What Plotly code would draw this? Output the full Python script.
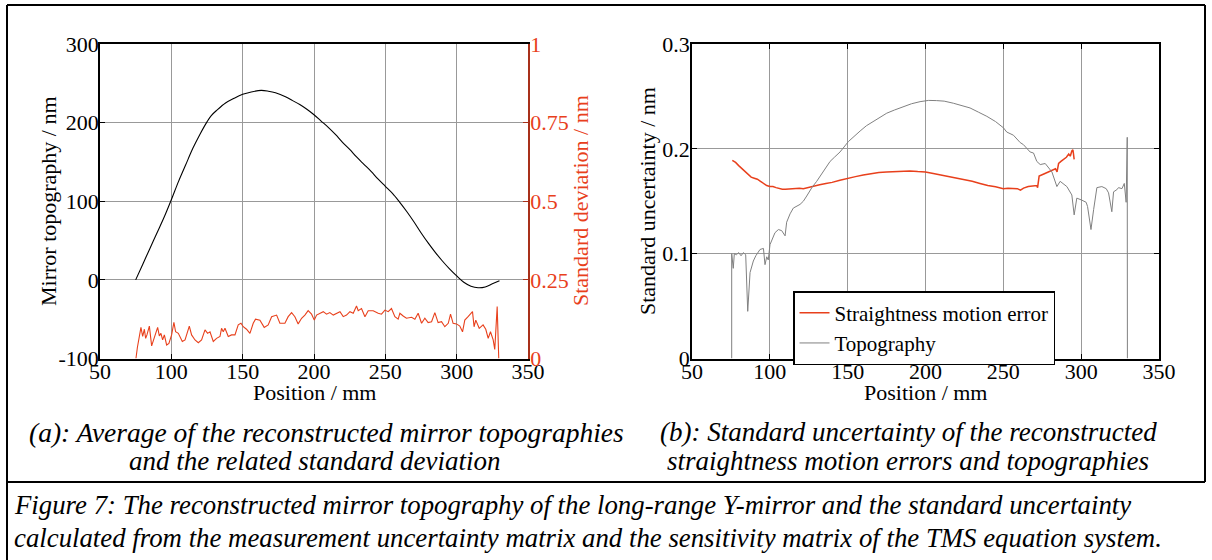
import plotly.graph_objects as go

W, H = 1212, 560

# ---------------- data (a) ----------------
topo_x = [75, 80, 85, 90, 95, 100, 105, 110, 115, 120, 125, 128, 132, 138, 144, 150, 156, 163, 168, 173,
          180, 185, 190, 195, 200, 205, 210, 215, 220, 225, 230, 235, 240, 245, 250, 255, 260, 265, 270, 275,
          280, 285, 290, 295, 300, 305, 310, 315, 320, 325, 330]
topo_y = [0, 20, 40, 60, 80, 102, 125, 146, 167, 185, 201, 209, 216, 225, 231, 236, 239, 241, 240, 238,
          233, 228, 223, 217, 210, 202, 194, 185, 175, 166, 156, 147, 138, 128, 119, 110, 99, 87, 74, 60,
          47, 35, 24, 14, 5, -3, -8, -10, -9, -5, -1]

std_x = [75.2, 76.2, 78.7, 79.9, 81.1, 82.0, 82.9, 84.6, 86.2, 88.1, 90.4, 91.6, 92.7, 93.9, 95.1, 96.7, 98.3,
         100.2, 101.8, 103.0, 104.9, 107.7, 109.6, 112.6, 114.2, 116.6, 118.9, 121.2, 123.6, 125.4, 127.1, 129.4,
         131.7, 134.1, 135.2, 136.4, 137.6, 139.9, 142.2, 144.6, 146.9, 148.8, 150.4, 152.7, 155.1, 157.4, 159.0,
         162.1, 165.1, 167.9, 170.3, 173.8, 176.1, 179.6, 181.9, 184.3, 186.6, 188.9, 191.3, 193.6, 195.9, 198.3,
         200.2, 201.8, 204.1, 206.5, 208.8, 211.1, 213.5, 215.8, 218.2, 220.5, 222.8, 225.2, 227.5, 229.8, 231.0,
         233.3, 235.7, 238.0, 241.5, 245.0, 247.3, 249.7, 252.0, 254.3, 256.7, 259.0, 260.2, 262.5, 264.8, 268.4,
         270.7, 273.0, 275.4, 277.7, 280.0, 282.4, 284.7, 287.0, 289.4, 291.7, 294.1, 295.7, 297.5, 299.9, 302.2,
         304.1, 305.7, 308.0, 311.1, 312.2, 313.4, 315.8, 318.5, 320.4, 322.1, 323.7, 325.6, 326.7, 328.4, 329.5]
std_y = [0.0, 0.035, 0.099, 0.07, 0.093, 0.064, 0.075, 0.103, 0.04, 0.07, 0.099, 0.072, 0.08, 0.059, 0.075, 0.043, 0.048,
         0.075, 0.115, 0.085, 0.08, 0.054, 0.059, 0.103, 0.075, 0.059, 0.05, 0.059, 0.091, 0.08, 0.085, 0.054,
         0.064, 0.07, 0.096, 0.085, 0.096, 0.07, 0.075, 0.075, 0.107, 0.112, 0.101, 0.093, 0.08, 0.112, 0.125,
         0.122, 0.099, 0.107, 0.133, 0.138, 0.112, 0.112, 0.133, 0.146, 0.133, 0.11, 0.128, 0.138, 0.152, 0.141,
         0.122, 0.138, 0.144, 0.149, 0.141, 0.146, 0.138, 0.144, 0.149, 0.133, 0.138, 0.149, 0.144, 0.167, 0.152,
         0.159, 0.133, 0.152, 0.152, 0.144, 0.141, 0.154, 0.149, 0.159, 0.133, 0.125, 0.144, 0.135, 0.128, 0.131,
         0.125, 0.144, 0.112, 0.128, 0.114, 0.117, 0.146, 0.114, 0.117, 0.101, 0.112, 0.141, 0.112, 0.11, 0.103,
         0.085, 0.122, 0.133, 0.149, 0.101, 0.122, 0.096, 0.107, 0.093, 0.064, 0.085, 0.059, 0.029, 0.165, 0.0]

# ---------------- data (b) ----------------
sme_x = [75.9, 78, 80, 82, 84, 86, 88, 90, 92, 94, 96, 98, 100, 102, 104, 106, 108, 110, 113, 116, 119, 121.5,
         125, 128, 132, 136, 140, 145, 150, 155, 160, 165, 170, 175, 180, 185, 190, 195, 200, 205, 210, 215, 220,
         225, 230, 235, 240, 245, 250, 253, 256, 259, 261, 263, 266, 269, 271.5, 272, 273, 276, 279, 282, 283.5,
         284.5, 285.5, 287, 289, 290.5, 292, 293, 294, 294.7, 295, 295.5]
sme_y = [0.189, 0.187, 0.184, 0.181, 0.178, 0.175, 0.173, 0.172, 0.171, 0.169, 0.167, 0.165, 0.164, 0.164, 0.163,
         0.162, 0.1615, 0.1615, 0.162, 0.162, 0.1625, 0.162, 0.163, 0.164, 0.1657, 0.167, 0.168, 0.17, 0.172,
         0.1735, 0.175, 0.1765, 0.1775, 0.178, 0.1785, 0.179, 0.1788, 0.1783, 0.178, 0.1765, 0.175, 0.1738,
         0.1725, 0.171, 0.169, 0.167, 0.165, 0.1638, 0.162, 0.1625, 0.1625, 0.162, 0.1605, 0.1625, 0.164, 0.1648,
         0.165, 0.163, 0.174, 0.176, 0.178, 0.18, 0.181, 0.178, 0.186, 0.188, 0.19, 0.192, 0.195, 0.193, 0.198,
         0.199, 0.196, 0.19]

tu_x = [75.5, 75.5, 76.5, 77.2, 78.5, 80, 81.5, 83, 84.5, 85.8, 87.3, 88.5, 89.4, 91, 92.5, 93.7, 95.9, 96.9, 98,
        99, 100.1, 101.5, 103.3, 105.5, 107.6, 109.8, 110.8, 113, 115.1, 119.4, 121.5, 123.7, 127, 130.1, 134,
        138.7, 141.5, 145.1, 150.5, 154, 158, 162, 166.6, 171, 175.1, 180, 185.8, 191, 196.5, 202, 207.2, 212,
        217.9, 223, 228.6, 234, 239.4, 245, 250.1, 252.2, 256.5, 260.8, 262.9, 267.2, 269.4, 271.5, 273.7, 276.9,
        281.2, 284.4, 286.5, 290.8, 294, 295.5, 297.2, 300.5, 303.2, 304.1, 306.3, 308, 310.1, 313.3, 316.1,
        317.6, 319.7, 320.8, 322.9, 324, 326.2, 327.7, 328.9, 329.6, 329.7]
tu_y = [0.0, 0.1, 0.086, 0.1, 0.099, 0.101, 0.098, 0.101, 0.099, 0.045, 0.082, 0.088, 0.093, 0.098, 0.101, 0.104,
        0.105, 0.0895, 0.097, 0.094, 0.1086, 0.113, 0.12, 0.123, 0.122, 0.117, 0.13, 0.138, 0.1435, 0.147, 0.15,
        0.155, 0.163, 0.169, 0.178, 0.188, 0.192, 0.197, 0.207, 0.212, 0.217, 0.222, 0.226, 0.230, 0.234, 0.237,
        0.24, 0.243, 0.245, 0.2462, 0.246, 0.2455, 0.2435, 0.2415, 0.239, 0.235, 0.231, 0.226, 0.22, 0.216,
        0.213, 0.206, 0.204, 0.197, 0.196, 0.188, 0.185, 0.186, 0.178, 0.164, 0.169, 0.164, 0.156, 0.137, 0.153,
        0.151, 0.149, 0.145, 0.123, 0.142, 0.163, 0.164, 0.162, 0.158, 0.14, 0.159, 0.161, 0.163, 0.162, 0.167,
        0.149, 0.211, 0.0]

x_ticks = [50, 100, 150, 200, 250, 300, 350]
x_ticktext = ["50", "100", "150", "200", "250", "300", "350"]
topo_ticks = [-100, 0, 100, 200, 300]
topo_ticktext = ["-100", "0", "100", "200", "300"]
std_ticks = [0, 0.25, 0.5, 0.75, 1]
std_ticktext = ["0", "0.25", "0.5", "0.75", "1"]
unc_ticks = [0, 0.1, 0.2, 0.3]
unc_ticktext = ["0", "0.1", "0.2", "0.3"]

RED = "#e8401c"
GRAY = "#808080"
FONT = "Liberation Serif"

def px(x):
    return x / W

def py(y):
    return 1 - y / H

fig = go.Figure()
fig.add_trace(go.Scatter(x=topo_x, y=topo_y, mode="lines", line=dict(color="black", width=1.1),
                         xaxis="x", yaxis="y", showlegend=False, line_shape="spline"))
fig.add_trace(go.Scatter(x=std_x, y=std_y, mode="lines", line=dict(color=RED, width=1.1),
                         xaxis="x", yaxis="y2", showlegend=False))
fig.add_trace(go.Scatter(x=sme_x, y=sme_y, mode="lines", line=dict(color=RED, width=1.5),
                         xaxis="x3", yaxis="y3", name="Straightness motion error"))
fig.add_trace(go.Scatter(x=tu_x, y=tu_y, mode="lines", line=dict(color=GRAY, width=1),
                         xaxis="x3", yaxis="y3", name="Topography"))

ydom = [py(358.5), py(44)]
common = dict(showgrid=True, gridcolor="#999999", gridwidth=1, zeroline=False, showline=True,
              linecolor="black", linewidth=1.5, ticks="inside", ticklen=5, tickcolor="black",
              automargin=False, tickfont=dict(family=FONT, size=22, color="black"))

fig.update_layout(
    width=W, height=H, margin=dict(l=0, r=0, t=0, b=0, pad=0, autoexpand=False),
    paper_bgcolor="white", plot_bgcolor="white",
    font=dict(family=FONT, size=20, color="black"),
    xaxis=dict(domain=[px(100), px(528)], range=[50, 350], tickvals=x_ticks, ticktext=x_ticktext,
               anchor="y", mirror=True, ticklabelstandoff=-8, **common),
    yaxis=dict(domain=ydom, range=[-100, 300], tickvals=topo_ticks, ticktext=topo_ticktext,
               anchor="x", ticklabelstandoff=-5, **common),
    yaxis2=dict(overlaying="y", side="right", anchor="x", range=[0, 1], tickvals=std_ticks,
                ticktext=std_ticktext, showgrid=False, zeroline=False, showline=True, automargin=False,
                linecolor="#a8301a", linewidth=1.5, ticks="inside", ticklen=5, tickcolor="#a8301a",
                ticklabelstandoff=-4, tickfont=dict(family=FONT, size=22, color=RED)),
    xaxis3=dict(domain=[px(692), px(1159)], range=[50, 350], tickvals=x_ticks, ticktext=x_ticktext,
                anchor="y3", mirror="ticks", ticklabelstandoff=-8, **common),
    yaxis3=dict(domain=ydom, range=[0, 0.3], tickvals=unc_ticks, ticktext=unc_ticktext,
                anchor="x3", mirror="ticks", ticklabelstandoff=-4, **common),
    legend=dict(x=px(793), y=py(291), xanchor="left", yanchor="top", bgcolor="white",
                bordercolor="black", borderwidth=1.5, font=dict(family=FONT, size=21, color="black"),
                tracegroupgap=0, itemwidth=30),
)

anns = [
    dict(text="Position / mm", x=px(314), y=py(392), size=22, color="black", angle=0),
    dict(text="Position / mm", x=px(925), y=py(392), size=22, color="black", angle=0),
    dict(text="Mirror topography / nm", x=px(48), y=py(201), size=22, color="black", angle=-90),
    dict(text="Standard deviation / nm", x=px(580), y=py(201), size=22, color=RED, angle=-90),
    dict(text="Standard uncertainty / nm", x=px(647), y=py(201), size=22, color="black", angle=-90),
]
for a in anns:
    fig.add_annotation(text=a["text"], x=a["x"], y=a["y"], xref="paper", yref="paper",
                       xanchor="center", yanchor="middle", showarrow=False, textangle=a["angle"],
                       font=dict(family=FONT, size=a["size"], color=a["color"]))

caps = [
    ("<i>(a): Average of the reconstructed mirror topographies</i>", 326, 432, "center", 27.5),
    ("<i>and the related standard deviation</i>", 314, 461, "center", 27),
    ("<i>(b): Standard uncertainty of the reconstructed</i>", 908, 432, "center", 27),
    ("<i>straightness motion errors and topographies</i>", 908, 461, "center", 27),
    ("<i>Figure 7: The reconstructed mirror topography of the long-range Y-mirror and the standard uncertainty</i>", 12, 505, "left", 26.8),
    ("<i>calculated from the measurement uncertainty matrix and the sensitivity matrix of the TMS equation system.</i>", 12, 538, "left", 26.8),
]
for t, x, y, anc, s in caps:
    fig.add_annotation(text=t, x=px(x), y=py(y), xref="paper", yref="paper", xanchor=anc,
                       yanchor="middle", showarrow=False, font=dict(family=FONT, size=s, color="black"))

lines = [((7, 5), (1205, 5)), ((7, 5), (7, 560)), ((1205, 5), (1205, 482)), ((7, 482), (1205, 482))]
for (x0, y0), (x1, y1) in lines:
    fig.add_shape(type="line", xref="paper", yref="paper", x0=px(x0), y0=py(y0), x1=px(x1), y1=py(y1),
                  line=dict(color="black", width=2))

fig.write_html("out.html", config={"displayModeBar": False},
               post_script="document.body.style.margin='0';document.body.style.overflow='hidden';")
